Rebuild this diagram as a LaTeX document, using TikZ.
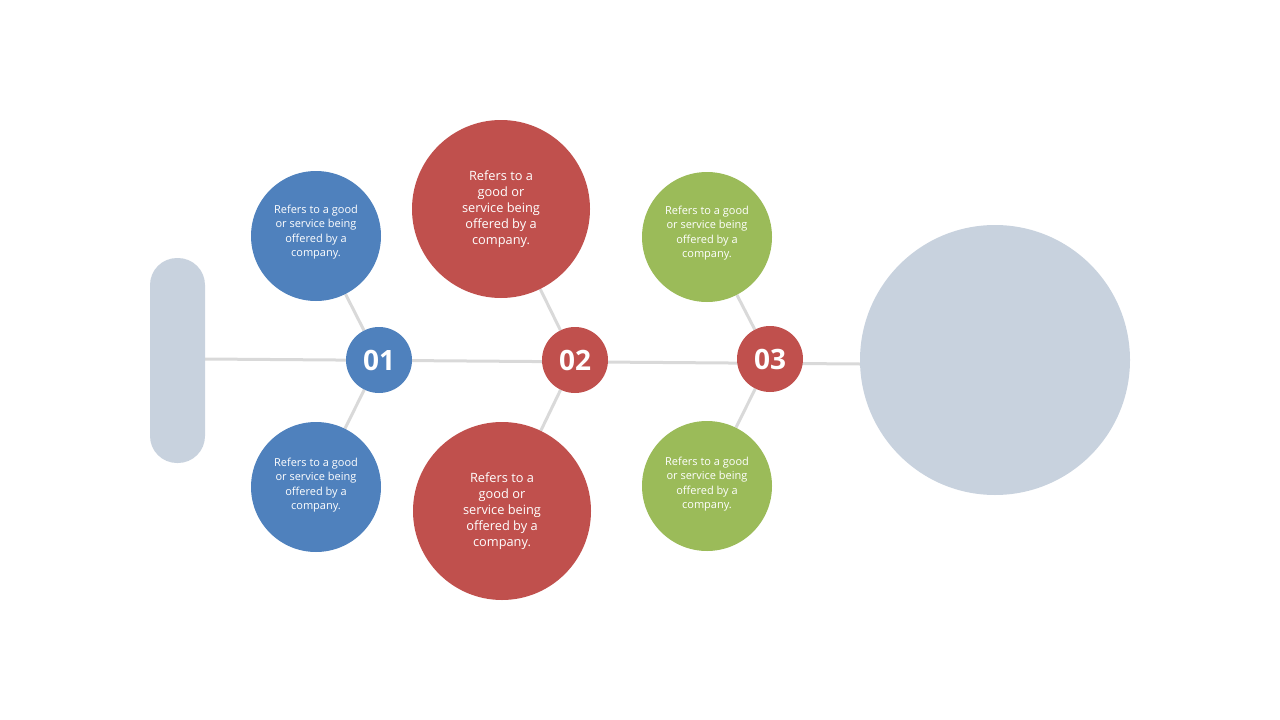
\documentclass[tikz,border=0pt]{standalone}
\usepackage{fontspec}
\setmainfont{Open Sans}
\usetikzlibrary{backgrounds}
\definecolor{fishblue}{HTML}{4F81BD}
\definecolor{fishred}{HTML}{C0504D}
\definecolor{fishgreen}{HTML}{9BBB59}
\definecolor{fishgray}{HTML}{C8D2DE}
\definecolor{bonegray}{HTML}{D9D9D9}
\tikzset{
  bone/.style={draw=bonegray, line width=3pt},
  num/.style={circle, inner sep=0pt, minimum size=66pt, text=white,
    font=\fontsize{28}{32}\selectfont\bfseries},
  smallfish/.style={circle, inner sep=0pt, minimum size=130pt, text=white,
    align=center, font=\fontsize{11}{14.3}\selectfont},
  bigfish/.style={circle, inner sep=0pt, minimum size=178pt, text=white,
    align=center, font=\fontsize{12.8}{16}\selectfont},
}
\begin{document}
\begin{tikzpicture}[x=1pt,y=-1pt]
        \useasboundingbox (0,0) rectangle (1280,720);
        \node[fill=fishgray, rounded corners=27pt, minimum width=55pt, minimum height=205pt] (tail) at (177.5,360.5) {};
        \node[circle, fill=fishgray, minimum size=270pt] (head) at (995,360) {};
        \node[num, fill=fishblue] (n01) at (379,360) {01};
        \node[num, fill=fishred] (n02) at (575,360) {02};
        \node[num, fill=fishred] (n03) at (770,359) {03};
        \node[smallfish, fill=fishblue] (b1) at (316,236) {Refers to a good\\or service being\\offered by a\\company.\\[-4pt]};
        \node[smallfish, fill=fishblue] (b2) at (316,487) {Refers to a good\\or service being\\offered by a\\company.\\[-8pt]};
        \node[bigfish, fill=fishred] (r1) at (501,209) {Refers to a\\good or\\service being\\offered by a\\company.};
        \node[bigfish, fill=fishred] (r2) at (502,511) {Refers to a\\good or\\service being\\offered by a\\company.};
        \node[smallfish, fill=fishgreen] (g1) at (707,237) {Refers to a good\\or service being\\offered by a\\company.\\[-4pt]};
        \node[smallfish, fill=fishgreen] (g2) at (707,486) {Refers to a good\\or service being\\offered by a\\company.\\[-8pt]};
        \coordinate (spinestart) at ([yshift=1.5pt]tail.east);
        \coordinate (spineend) at ([yshift=-4pt]head.west);
        \begin{pgfonlayer}{background}
            \draw[bone] (spinestart) -- (spineend);
            \draw[bone] (b1) -- (n01) -- (b2);
            \draw[bone] (r1) -- (n02) -- (r2);
            \draw[bone] (g1) -- (n03) -- (g2);
        \end{pgfonlayer}
    \end{tikzpicture}
\end{document}
